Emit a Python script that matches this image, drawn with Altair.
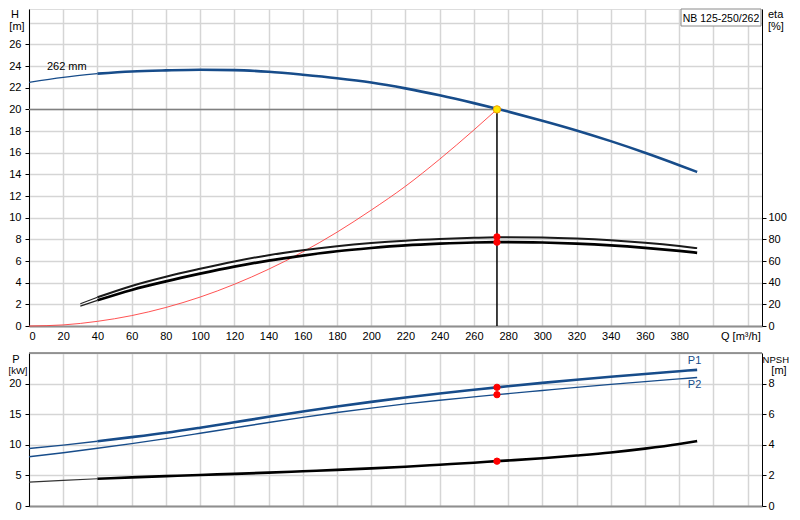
import altair as alt
import pandas as pd

# ---------------- data ----------------
Q_H = [0, 20, 40, 60, 80, 100, 120, 140, 160, 180, 200, 220, 240, 260, 273.5, 280, 300, 320, 340, 360, 380, 390.5]
H_262 = [22.5, 22.95, 23.3, 23.5, 23.6, 23.66, 23.63, 23.47, 23.2, 22.88, 22.48, 21.94, 21.3, 20.58, 20.06, 19.8, 18.96, 18.06, 17.07, 16.0, 14.85, 14.22]

Q_SYS = [0, 20, 40, 60, 80, 100, 120, 140, 160, 180, 200, 220, 240, 260, 273.5]
H_SYS = [0, 0.1, 0.43, 0.96, 1.71, 2.67, 3.85, 5.24, 6.84, 8.66, 10.7, 12.9, 15.4, 18.1, 20.0]

Q_ETA = [30, 40, 60, 80, 100, 120, 140, 160, 180, 200, 220, 240, 260, 273.5, 280, 300, 320, 340, 360, 380, 390.5]
ETA_1 = [20.5, 26.5, 37.0, 45.5, 52.8, 59.6, 65.4, 70.0, 73.7, 76.6, 78.8, 80.3, 81.4, 81.9, 82.0, 81.7, 80.7, 79.1, 76.8, 73.8, 71.9]
ETA_2 = [18.4, 23.7, 33.3, 41.2, 48.3, 54.8, 60.4, 65.0, 69.0, 72.0, 74.4, 76.0, 77.1, 77.4, 77.5, 77.1, 76.1, 74.5, 72.2, 69.3, 67.6]

Q_P = [0, 20, 40, 60, 80, 100, 120, 140, 160, 180, 200, 220, 240, 260, 273.5, 300, 320, 340, 360, 380, 390.5]
P1 = [9.39, 9.95, 10.58, 11.25, 11.97, 12.8, 13.68, 14.57, 15.43, 16.25, 17.02, 17.73, 18.39, 18.99, 19.39, 20.12, 20.63, 21.12, 21.58, 22.02, 22.25]
P2 = [8.05, 8.7, 9.43, 10.2, 11.01, 11.88, 12.77, 13.65, 14.49, 15.27, 16.0, 16.68, 17.29, 17.83, 18.19, 18.87, 19.38, 19.87, 20.33, 20.77, 21.0]
NPSH = [1.56, 1.67, 1.78, 1.87, 1.95, 2.03, 2.1, 2.18, 2.27, 2.36, 2.46, 2.57, 2.7, 2.83, 2.93, 3.12, 3.3, 3.5, 3.75, 4.05, 4.24]

Q_DUTY = 273.5
H_DUTY = 20.0
ETA_DUTY = [82.3, 77.4]
P_DUTY = [19.39, 18.19]
NPSH_DUTY = [2.93]

Q_TICKS = list(range(0, 421, 20))
H_TICKS = list(range(0, 29, 2))
ETA_TICKS = [0, 20, 40, 60, 80, 100]
P_TICKS = [0, 5, 10, 15, 20, 25]
NPSH_TICKS = [0, 2, 4, 6, 8]

PUMP_NAME = "NB 125-250/262"
CURVE_LABEL = "262 mm"

# ---------------- styling ----------------
FONT = "Liberation Sans"
BLUE = "#174c8a"
GRID = "#d5d5d5"
W_TOP, H_TOP = 733, 317
W_BOT, H_BOT = 733, 153


def df_of(qs, vals, lo=-1e9, hi=1e9):
    rows = [(q, v) for q, v in zip(qs, vals) if lo <= q <= hi]
    return pd.DataFrame({"Q": [r[0] for r in rows], "v": [r[1] for r in rows]})


x_top = alt.X("Q:Q", title=None,
              scale=alt.Scale(domain=[0, 428.4], nice=False, zero=True),
              axis=alt.Axis(values=Q_TICKS, labelExpr="datum.value <= 380 ? datum.label : ''",
                            grid=True, gridColor=GRID, gridWidth=1.5, ticks=False,
                            domainColor="#8f8f8f", domainWidth=2, labelPadding=4,
                            labelFont=FONT, labelFontSize=11, labelColor="#000"))
x_bot = alt.X("Q:Q", title=None,
              scale=alt.Scale(domain=[0, 428.4], nice=False, zero=True),
              axis=alt.Axis(values=Q_TICKS, labels=False, ticks=False,
                            grid=True, gridColor=GRID, gridWidth=1.5,
                            domainColor="#8f8f8f", domainWidth=2))

y_H = alt.Y("v:Q", title=None, scale=alt.Scale(domain=[0, 29.27], nice=False, zero=True),
            axis=alt.Axis(orient="left", values=H_TICKS,
                          labelExpr="datum.value <= 26 ? datum.label : ''",
                          tickOpacity={"condition": {"test": "datum.value > 26", "value": 0}, "value": 1},
                          grid=True, gridColor=GRID, gridWidth=1.5,
                          domainColor="#000", tickColor="#000", tickSize=4, labelPadding=4,
                          labelFont=FONT, labelFontSize=11, labelColor="#000"))
y_eta = alt.Y("v:Q", title=None, scale=alt.Scale(domain=[0, 292.7], nice=False, zero=True),
              axis=alt.Axis(orient="right", values=ETA_TICKS, grid=False,
                            domainColor="#000", tickColor="#000", tickSize=4, labelPadding=2,
                            labelFont=FONT, labelFontSize=11, labelColor="#000"))
y_P = alt.Y("v:Q", title=None, scale=alt.Scale(domain=[0, 25], nice=False, zero=True),
            axis=alt.Axis(orient="left", values=P_TICKS,
                          labelExpr="datum.value <= 20 ? datum.label : ''",
                          tickOpacity={"condition": {"test": "datum.value > 20", "value": 0}, "value": 1},
                          grid=True, gridColor=GRID, gridWidth=1.5,
                          domainColor="#000", tickColor="#000", tickSize=4, labelPadding=4,
                          labelFont=FONT, labelFontSize=11, labelColor="#000"))
y_N = alt.Y("v:Q", title=None, scale=alt.Scale(domain=[0, 10], nice=False, zero=True),
            axis=alt.Axis(orient="right", values=NPSH_TICKS, grid=False,
                          domainColor="#000", tickColor="#000", tickSize=4, labelPadding=2,
                          labelFont=FONT, labelFontSize=11, labelColor="#000"))


def line(df, x, y, color, width):
    return alt.Chart(df).mark_line(color=color, strokeWidth=width, interpolate="monotone").encode(x=x, y=y)


def dots(qs, vals, x, y, fill="#ff0000", stroke="#ff0000", size=40):
    return alt.Chart(df_of(qs, vals)).mark_point(filled=True, fill=fill, stroke=stroke,
                                                  strokeWidth=1, opacity=1, size=size).encode(x=x, y=y)


def label(text, px, py, align="left", size=11, color="#000"):
    return alt.Chart(pd.DataFrame({"t": [text]})).mark_text(
        align=align, baseline="alphabetic", font=FONT, fontSize=size, color=color
    ).encode(x=alt.value(px), y=alt.value(py), text="t:N")


# ---------------- top panel ----------------
duty_h = pd.DataFrame({"Q": [0], "Q2": [Q_DUTY], "v": [H_DUTY]})
duty_v = pd.DataFrame({"Q": [Q_DUTY], "v": [0], "v2": [H_DUTY]})

h_group = alt.layer(
    alt.Chart(duty_h).mark_rule(color="#808080", strokeWidth=1.5).encode(x=x_top, x2="Q2:Q", y=y_H),
    alt.Chart(duty_v).mark_rule(color="#000", strokeWidth=1.5).encode(x=x_top, y=y_H, y2="v2:Q"),
    line(df_of(Q_SYS, H_SYS), x_top, y_H, "#ff4040", 0.9),
    line(df_of(Q_H, H_262, hi=40), x_top, y_H, BLUE, 1.3),
    line(df_of(Q_H, H_262, lo=40), x_top, y_H, BLUE, 2.6),
    dots([Q_DUTY], [H_DUTY], x_top, y_H, fill="#ffe600", stroke="#f0a000", size=55),
    alt.Chart(pd.DataFrame({"Q": [10.5], "v": [23.9], "t": [CURVE_LABEL]})).mark_text(
        align="left", baseline="middle", font=FONT, fontSize=11, color="#000"
    ).encode(x=x_top, y=y_H, text="t:N"),
)

eta_group = alt.layer(
    line(df_of(Q_ETA, ETA_1, hi=40), x_top, y_eta, "#222", 1.2),
    line(df_of(Q_ETA, ETA_2, hi=40), x_top, y_eta, "#222", 1.2),
    line(df_of(Q_ETA, ETA_1, lo=40), x_top, y_eta, "#1a1a1a", 2.0),
    line(df_of(Q_ETA, ETA_2, lo=40), x_top, y_eta, "#000", 2.7),
    dots([Q_DUTY, Q_DUTY], ETA_DUTY, x_top, y_eta, size=40),
)

top_text = alt.layer(
    label("H", -14, 9, align="center"),
    label("[m]", -12, 21, align="center"),
    label("eta", 739, 9),
    label("[%]", 739, 21),
    label("Q [m\u00b3/h]", 692, 331),
    alt.Chart(pd.DataFrame({"t": [PUMP_NAME]})).mark_rect(fill="#fff", stroke="#8a8a8a", strokeWidth=1).encode(
        x=alt.value(652), x2=alt.value(732), y=alt.value(0), y2=alt.value(17)),
    label(PUMP_NAME, 692, 13, align="center", size=10.5),
)

top = alt.layer(h_group, eta_group, top_text).resolve_scale(y="independent").properties(
    width=W_TOP, height=H_TOP)

# ---------------- bottom panel ----------------
p_group = alt.layer(
    alt.Chart(pd.DataFrame({"v": [25]})).mark_rule(color="#7a7a7a", strokeWidth=1.5).encode(y=y_P),
    line(df_of(Q_P, P2), x_bot, y_P, BLUE, 1.4),
    line(df_of(Q_P, P1, hi=40), x_bot, y_P, BLUE, 1.4),
    line(df_of(Q_P, P1, lo=40), x_bot, y_P, BLUE, 2.6),
    dots([Q_DUTY, Q_DUTY], P_DUTY, x_bot, y_P, size=40),
    alt.Chart(pd.DataFrame({"Q": [389, 389], "v": [23.7, 19.8], "t": ["P1", "P2"]})).mark_text(
        align="center", baseline="middle", font=FONT, fontSize=11, color=BLUE
    ).encode(x=x_bot, y=y_P, text="t:N"),
)

n_group = alt.layer(
    line(df_of(Q_P, NPSH, hi=40), x_bot, y_N, "#333", 1.2),
    line(df_of(Q_P, NPSH, lo=40), x_bot, y_N, "#000", 2.6),
    dots([Q_DUTY], NPSH_DUTY, x_bot, y_N, size=40),
)

bot_text = alt.layer(
    label("P", -13, 10, align="center"),
    label("[kW]", -1.5, 21, align="right", size=9.5),
    label("NPSH", 760, 10, align="right", size=9.5),
    label("[m]", 750, 21, align="center"),
)

bottom = alt.layer(p_group, n_group, bot_text).resolve_scale(y="independent").properties(
    width=W_BOT, height=H_BOT)

chart = alt.vconcat(top, bottom, spacing=8).properties(
    padding={"left": 0, "top": 0, "right": 0, "bottom": 0}
).configure_view(strokeWidth=0).configure(background="#ffffff")

chart.save("out.html", embed_options={"renderer": "svg", "actions": False})
